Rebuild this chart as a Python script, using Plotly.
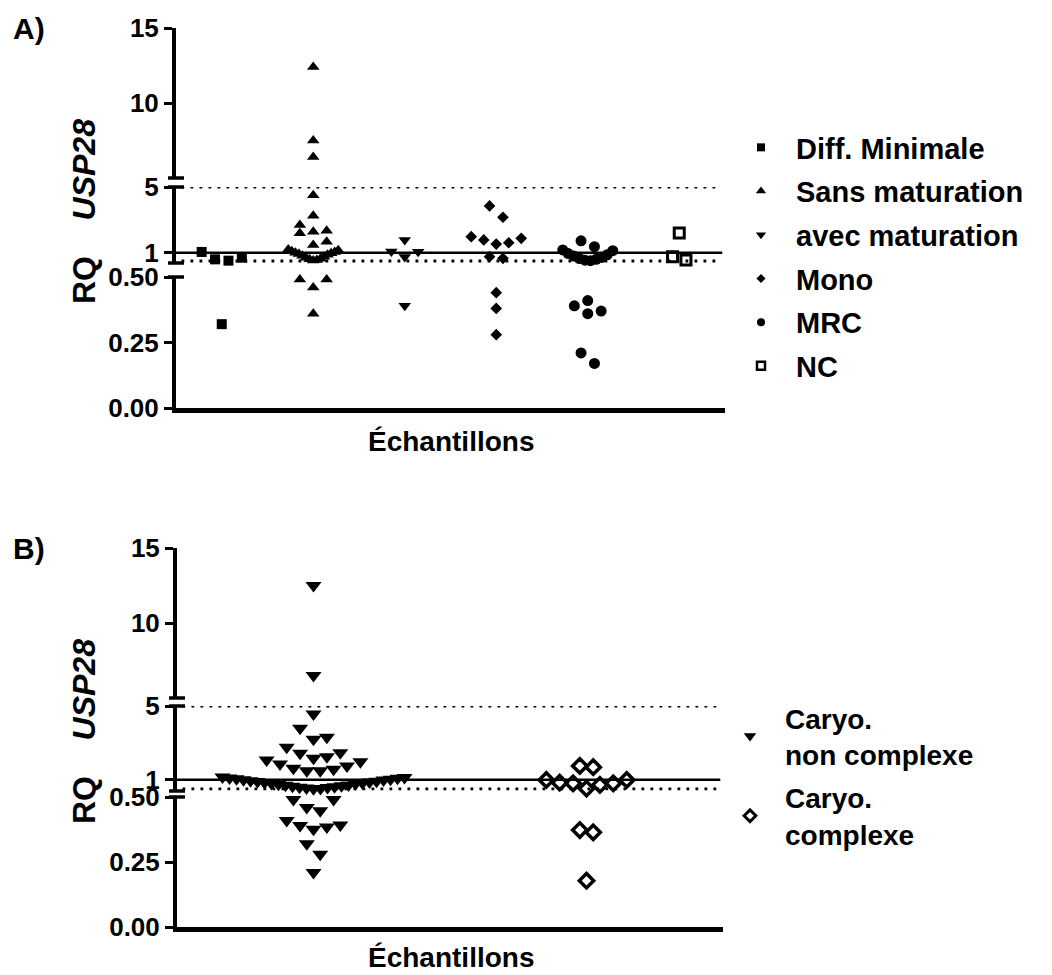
import plotly.graph_objects as go

# ---------------- data (RQ values) ----------------
groups_a = ["Diff. Minimale", "Sans maturation", "avec maturation", "Mono", "MRC", "NC"]
diff_minimale = [1.05, 0.60, 0.52, 0.70, 0.32]
sans_maturation = [12.4, 7.5, 6.4, 4.5, 3.25, 2.69, 2.34, 2.28, 2.18, 1.67, 1.47,
                   1.2, 1.15, 1.1, 1.05, 1.0, 0.97, 0.93, 0.88, 0.82, 0.76, 0.7, 0.64,
                   0.6, 0.56, 0.53, 0.49, 0.49, 0.46, 0.36]
avec_maturation = [1.78, 1.08, 1.06, 0.75, 0.39]
mono = [3.85, 3.16, 1.98, 1.88, 1.78, 1.61, 1.53, 0.76, 0.66, 0.44, 0.38, 0.28]
mrc = [1.73, 1.37, 1.17, 1.13, 0.95, 0.88, 0.80, 0.72, 0.65, 0.60, 0.55, 0.52,
       0.41, 0.39, 0.37, 0.36, 0.21, 0.17]
nc = [2.2, 0.76, 0.56]

groups_b = ["Caryo.<br>non complexe", "Caryo.<br>complexe"]
non_complexe = [12.5, 6.5, 4.57, 3.8, 3.3, 3.2, 2.76, 2.47, 2.44, 2.25, 2.16, 2.07,
                1.98, 1.86, 1.75, 1.62, 1.57, 1.49, 1.49,
                1.15, 1.12, 1.1, 1.08, 1.05, 1.03, 1.0, 0.98, 0.95, 0.92, 0.9, 0.88,
                0.85, 0.82, 0.8, 0.78, 0.75, 0.72, 0.7, 0.68, 0.65, 0.62, 0.6, 0.58,
                0.55, 0.53, 0.51,
                0.49, 0.49, 0.46, 0.447, 0.41, 0.392, 0.39, 0.385, 0.376, 0.32, 0.28, 0.21]
complexe = [1.75, 1.68, 0.99, 0.99, 0.84, 0.81, 0.81, 0.72, 0.52, 0.373, 0.364, 0.178]

y_ticks_lower = [0, 0.25, 0.5]
y_ticktext_lower = ["0.00", "0.25", "0.50"]
y_ticks_middle = [1, 5]
y_ticktext_middle = ["1", "5"]
y_ticks_upper = [10, 15]
y_ticktext_upper = ["10", "15"]

# ---------------- layout config (pixels) ----------------
W, H = 1052, 975


def px_x(p):
    return p / W


def px_y(p):
    return 1 - p / H


FONT = "Liberation Sans, Arial, sans-serif"

panels = {
    "A": dict(xname="x", ynames=["y", "y2", "y3"], x_px=(176, 725), n=6,
              segs=[((0, 0.5), (408, 277)), ((0.378, 5), (263, 187)), ((5, 15), (178, 28))],
              half_width=25),
    "B": dict(xname="x2", ynames=["y4", "y5", "y6"], x_px=(177, 723), n=2,
              segs=[((0, 0.5), (927, 797)), ((0.39, 5), (791, 706)), ((5, 15), (698, 548))],
              half_width=91),
}

STEP = 13.4
ROW_H = 12.0


def seg_index(v):
    return 0 if v < 0.5 else (1 if v < 5 else 2)


def make_to_px(segs):
    def f(v):
        (r0, r1), (p0, p1) = segs[seg_index(v)]
        return p0 + (v - r0) * (p1 - p0) / (r1 - r0)
    return f


def swarm_offsets(values, to_px, step, half_width, row_h):
    order = sorted(range(len(values)), key=lambda i: values[i])
    rows = []
    for i in order:
        y = to_px(values[i])
        if rows and rows[-1][0] - y < row_h:
            rows[-1][1].append(i)
        else:
            rows.append([y, [i]])
    off = [0.0] * len(values)
    for _, idx in rows:
        m = len(idx)
        s = step if m == 1 else min(step, 2 * half_width / (m - 1))
        for k, i in enumerate(idx):
            if m % 2:
                slot = 0 if k == 0 else ((k + 1) // 2 if k % 2 else -(k // 2))
            else:
                slot = (k // 2 + 0.5) * (1 if k % 2 == 0 else -1)
            off[i] = slot * s
    return off


fig = go.Figure()


def add_group(panel_key, pos, values, marker, legend_marker, name, legend_name):
    P = panels[panel_key]
    to_px = make_to_px(P["segs"])
    offs = swarm_offsets(values, to_px, STEP, P["half_width"], ROW_H)
    px_per_unit = (P["x_px"][1] - P["x_px"][0]) / P["n"]
    for k in range(3):
        xs = [pos + o / px_per_unit for v, o in zip(values, offs) if seg_index(v) == k]
        ys = [v for v in values if seg_index(v) == k]
        if not ys:
            continue
        fig.add_trace(go.Scatter(x=xs, y=ys, mode="markers", marker=marker, name=name,
                                 legendgroup=name, showlegend=False, cliponaxis=False,
                                 xaxis=P["xname"], yaxis=P["ynames"][k], hoverinfo="y"))
    # legend entry
    fig.add_trace(go.Scatter(x=[None], y=[None], mode="markers", marker=legend_marker,
                             name=name, legendgroup=name, showlegend=True,
                             legend=legend_name, xaxis=P["xname"], yaxis=P["ynames"][0]))


blk = "black"
add_group("A", 0, diff_minimale, dict(symbol="square", size=10, color=blk),
          dict(symbol="square", size=8, color=blk), groups_a[0], "legend")
add_group("A", 1, sans_maturation, dict(symbol="triangle-up", size=11, color=blk),
          dict(symbol="triangle-up", size=9, color=blk), groups_a[1], "legend")
add_group("A", 2, avec_maturation, dict(symbol="triangle-down", size=11, color=blk),
          dict(symbol="triangle-down", size=9, color=blk), groups_a[2], "legend")
add_group("A", 3, mono, dict(symbol="diamond", size=9, color=blk),
          dict(symbol="diamond", size=7, color=blk), groups_a[3], "legend")
add_group("A", 4, mrc, dict(symbol="circle", size=11, color=blk),
          dict(symbol="circle", size=8, color=blk), groups_a[4], "legend")
add_group("A", 5, nc, dict(symbol="square-open", size=10, color=blk, line=dict(width=3, color=blk)),
          dict(symbol="square-open", size=8, color=blk, line=dict(width=2.5, color=blk)),
          groups_a[5], "legend")

add_group("B", 0, non_complexe, dict(symbol="triangle-down", size=14, color=blk),
          dict(symbol="triangle-down", size=11, color=blk), groups_b[0], "legend2")
add_group("B", 1, complexe, dict(symbol="diamond-open", size=11, color=blk, line=dict(width=3.5, color=blk)),
          dict(symbol="diamond-open", size=9, color=blk, line=dict(width=3, color=blk)),
          groups_b[1], "legend2")

# ---------------- axes ----------------
tickfont = dict(family=FONT, size=26, color=blk, weight="bold")
layout_axes = {}
shapes = []
for key, P in panels.items():
    xlay = "xaxis" if P["xname"] == "x" else "xaxis" + P["xname"][1:]
    layout_axes[xlay] = dict(domain=[px_x(P["x_px"][0]), px_x(P["x_px"][1])],
                             range=[-0.5, P["n"] - 0.5], anchor=P["ynames"][0],
                             showline=True, linewidth=4.5, linecolor=blk,
                             showticklabels=False, ticks="", showgrid=False,
                             zeroline=False, fixedrange=True, automargin=False)
    tickinfo = [(y_ticks_lower, y_ticktext_lower), (y_ticks_middle, y_ticktext_middle),
                (y_ticks_upper, y_ticktext_upper)]
    for k, yn in enumerate(P["ynames"]):
        (r0, r1), (pb, pt) = P["segs"][k]
        ylay = "yaxis" if yn == "y" else "yaxis" + yn[1:]
        layout_axes[ylay] = dict(domain=[px_y(pb), px_y(pt)], range=[r0, r1],
                                 anchor=P["xname"], showline=True, linewidth=4,
                                 linecolor=blk, ticks="outside", ticklen=8, tickwidth=3,
                                 tickcolor=blk, tickvals=tickinfo[k][0],
                                 ticktext=tickinfo[k][1], tickfont=tickfont,
                                 showgrid=False, zeroline=False, fixedrange=True,
                                 automargin=False)
    # axis break caps
    ax_x = P["x_px"][0]
    cap_px = [P["segs"][2][1][0], P["segs"][1][1][1], P["segs"][1][1][0], P["segs"][0][1][1]]
    for cp in cap_px:
        shapes.append(dict(type="line", xref="paper", yref="paper",
                           x0=px_x(ax_x - 8), x1=px_x(ax_x + 8), y0=px_y(cp), y1=px_y(cp),
                           line=dict(color=blk, width=3.5)))
    mid = P["ynames"][1]
    xdom = P["xname"] + " domain"
    shapes.append(dict(type="line", xref=xdom, yref=mid, x0=0, x1=0.995, y0=1, y1=1,
                       line=dict(color=blk, width=2.5), layer="below"))
    for yv in (5, 0.5):
        shapes.append(dict(type="line", xref=xdom, yref=mid, x0=0.01, x1=0.99, y0=yv, y1=yv,
                           line=dict(color=blk, width=2.8, dash="2.8px,6.2px"),
                           layer="below"))

annotations = []
for lab, cy in (("A)", 28), ("B)", 548)):
    annotations.append(dict(text=lab, xref="paper", yref="paper", x=px_x(29), y=px_y(cy),
                            showarrow=False, xanchor="center", yanchor="middle",
                            font=dict(family=FONT, size=30, color=blk, weight="bold")))
for cy in (212, 732):
    annotations.append(dict(text="RQ&nbsp;&nbsp;&nbsp;&nbsp;<i>USP28</i>", xref="paper", yref="paper",
                            x=px_x(84), y=px_y(cy), textangle=-90, showarrow=False,
                            xanchor="center", yanchor="middle",
                            font=dict(family=FONT, size=32, color=blk, weight="bold")))
for cy in (441, 957):
    annotations.append(dict(text="Échantillons", xref="paper", yref="paper",
                            x=px_x(451), y=px_y(cy), showarrow=False,
                            xanchor="center", yanchor="middle",
                            font=dict(family=FONT, size=28, color=blk, weight="bold")))

legend_font = dict(family=FONT, size=29, color=blk, weight="bold")
fig.update_layout(
    template="none",
    width=W, height=H, autosize=False,
    margin=dict(l=0, r=0, t=0, b=0, pad=0, autoexpand=False),
    paper_bgcolor="white", plot_bgcolor="white",
    font=dict(family=FONT, color=blk),
    showlegend=True,
    legend=dict(x=px_x(726), y=px_y(122), xanchor="left", yanchor="top",
                font=legend_font, itemwidth=60, tracegroupgap=3, traceorder="grouped",
                bgcolor="rgba(0,0,0,0)", borderwidth=0, itemclick=False, itemdoubleclick=False),
    legend2=dict(x=px_x(715), y=px_y(693), xanchor="left", yanchor="top",
                 font=dict(family=FONT, size=28, color=blk, weight="bold"),
                 itemwidth=60, tracegroupgap=4, traceorder="grouped",
                 bgcolor="rgba(0,0,0,0)", borderwidth=0, itemclick=False, itemdoubleclick=False),
    shapes=shapes, annotations=annotations,
    **layout_axes,
)

fig.write_html("out.html", config={"displayModeBar": False},
               post_script="document.body.style.margin='0';")
